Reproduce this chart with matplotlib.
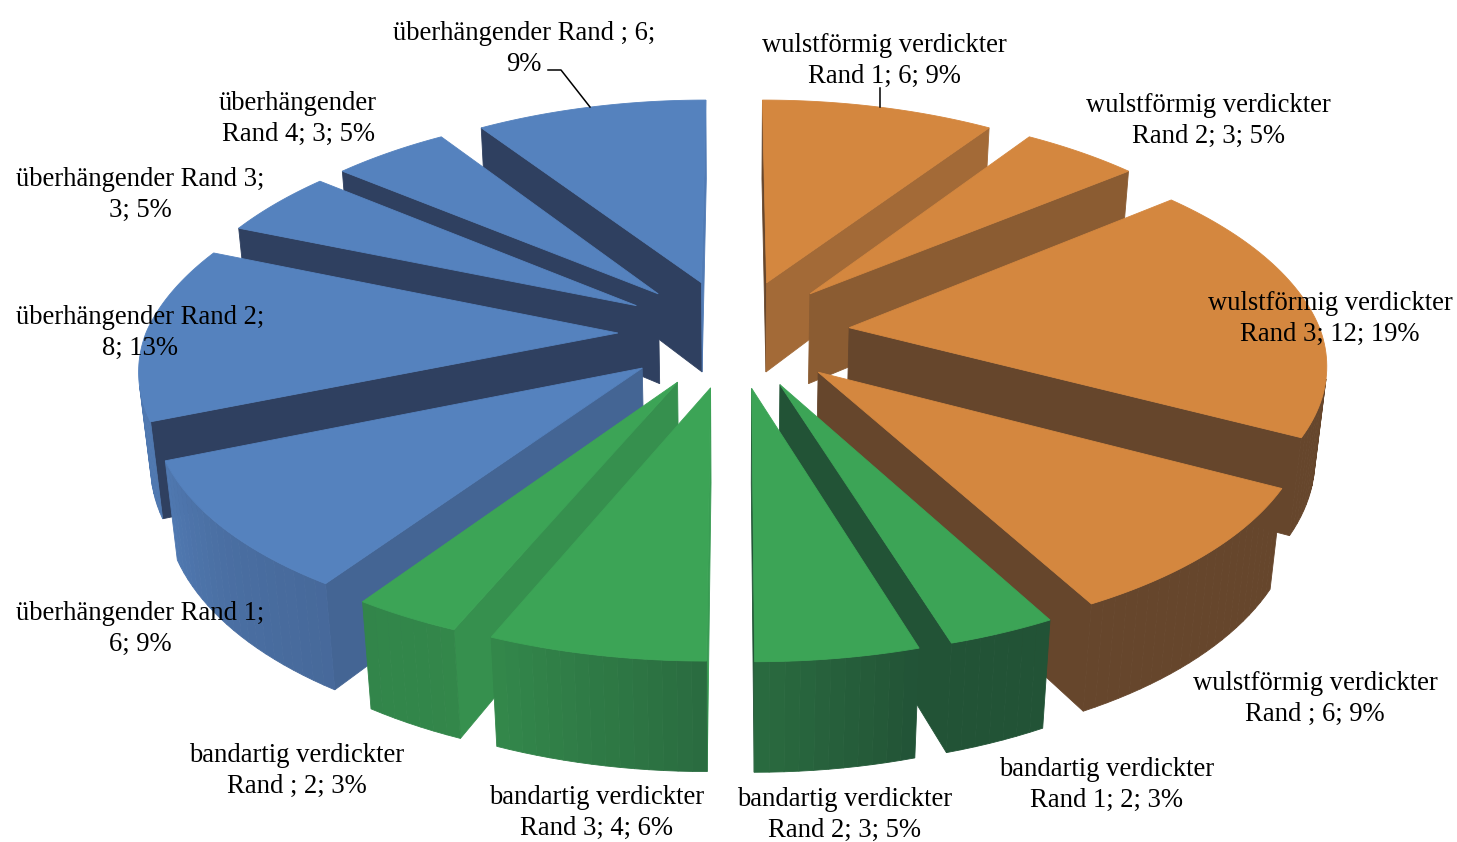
import numpy as np
import matplotlib
matplotlib.use("Agg")
import matplotlib.pyplot as plt
from matplotlib.colors import to_rgb
from matplotlib.patches import Polygon

# ---------- data ----------
values = [6, 3, 12, 6, 2, 3, 4, 2, 6, 8, 3, 3, 6]
labels = [
    "wulstförmig verdickter\nRand 1; 6; 9%",
    "wulstförmig verdickter\nRand 2; 3; 5%",
    "wulstförmig verdickter\nRand 3; 12; 19%",
    "wulstförmig verdickter\nRand ; 6; 9%",
    "bandartig verdickter\nRand 1; 2; 3%",
    "bandartig verdickter\nRand 2; 3; 5%",
    "bandartig verdickter\nRand 3; 4; 6%",
    "bandartig verdickter\nRand ; 2; 3%",
    "überhängender Rand 1;\n6; 9%",
    "überhängender Rand 2;\n8; 13%",
    "überhängender Rand 3;\n3; 5%",
    "überhängender\nRand 4; 3; 5%",
    "überhängender Rand ; 6;\n9%",
]
groups = ["o", "o", "o", "o", "g", "g", "g", "g", "b", "b", "b", "b", "b"]

# ---------- style / layout ----------
W, H = 1457, 842
label_pos = [(884, 58), (1208, 118), (1330, 316), (1315, 696), (1107, 782),
             (845, 812), (597, 810), (297, 768), (140, 626), (140, 330),
             (140, 192), (298, 116), (524, 46)]
top_col = {"o": "#D4873F", "g": "#3CA456", "b": "#5582BE"}
dark_col = {"o": "#66462C", "g": "#225336", "b": "#2F4060"}
CX, CY, A, B, C = 734, 333, 472, 220, 92
Q, QX_BACK_L, QX_BACK_R, QX_FRONT, R, EXPLODE = 0.135, 0.16, 0.15, 0.14, 0.02, 0.246

wall_b = [0, 90, 112.5, 124, 140.6, 155, 360]
wall_t = [0.9, 0.9, 0.75, 0.55, 0.34, 0.0, 0.0]
rim_b = [0, 150, 163, 180, 202, 214, 230, 247, 292, 360]
rim_t = [0, 0, 0, 0.3, 0.64, 0.62, 0.7, 0.85, 0.85, 0.85]


def shade(g, t):
    a, b = np.array(to_rgb(dark_col[g])), np.array(to_rgb(top_col[g]))
    return tuple(a + (b - a) * t)


def project(x, y, z):
    qx = (QX_BACK_R if x > 0 else QX_BACK_L) if y > 0 else QX_FRONT
    return (CX + A * x / (1 + qx * y + R * z),
            CY + (-B * y + C * z) / (1 + Q * y))


def signed_area(pts):
    p = np.array(pts)
    xs, ys = p[:, 0], p[:, 1]
    return 0.5 * np.sum(xs * np.roll(ys, -1) - np.roll(xs, -1) * ys)


fig = plt.figure(figsize=(W / 100, H / 100), dpi=100)
ax = fig.add_axes([0, 0, 1, 1])
ax.set_xlim(0, W)
ax.set_ylim(H, 0)
ax.axis("off")

total = sum(values)
edges = np.concatenate([[0], np.cumsum(values)]) / total * 360


def face(pts, col, zorder):
    ax.add_patch(Polygon(pts, closed=True, facecolor=col, edgecolor=col,
                         linewidth=0.6, zorder=zorder))


bis = (edges[:-1] + edges[1:]) / 2
order = np.argsort(-np.cos(np.radians(bis)))

for rank, i in enumerate(order):
    g = groups[i]
    s, e = edges[i], edges[i + 1]
    m = np.radians(bis[i])
    ox, oy = EXPLODE * np.sin(m), EXPLODE * np.cos(m)
    base = rank * 10 + 1

    def P(bearing, r, z):
        t = np.radians(bearing)
        return project(ox + r * np.sin(t), oy + r * np.cos(t), z)

    # radial walls
    for edge, nrm, sign in ((s, s - 90, 1), (e, e + 90, -1)):
        quad = [P(edge, 0, 0), P(edge, 1, 0), P(edge, 1, 1), P(edge, 0, 1)]
        if signed_area(quad) * sign > 0:
            continue
        t = np.interp(nrm % 360, wall_b, wall_t)
        face(quad, shade(g, t), base)
    # outer rim
    steps = max(2, int((e - s) / 1.5))
    th = np.linspace(s, e, steps + 1)
    for a0, a1 in zip(th[:-1], th[1:]):
        quad = [P(a0, 1, 0), P(a1, 1, 0), P(a1, 1, 1), P(a0, 1, 1)]
        if signed_area(quad) > 0:
            continue
        t = np.interp(((a0 + a1) / 2) % 360, rim_b, rim_t)
        face(quad, shade(g, t), base + 1)
    # top
    th = np.linspace(s, e, 60)
    face([P(0, 0, 0)] + [P(a, 1, 0) for a in th], top_col[g], base + 2)

# leader lines
ax.plot([548, 561, 590], [70, 70, 107], color="black", lw=1.1, zorder=500)
ax.plot([880, 880], [88, 107], color="black", lw=1.1, zorder=500)

for txt, (x, y) in zip(labels, label_pos):
    ax.text(x, y + 3, txt, ha="center", va="center", family="Liberation Serif",
            fontsize=19.2, linespacing=1.34, color="black", zorder=600)

fig.savefig("out.png", dpi=100, facecolor="white")
